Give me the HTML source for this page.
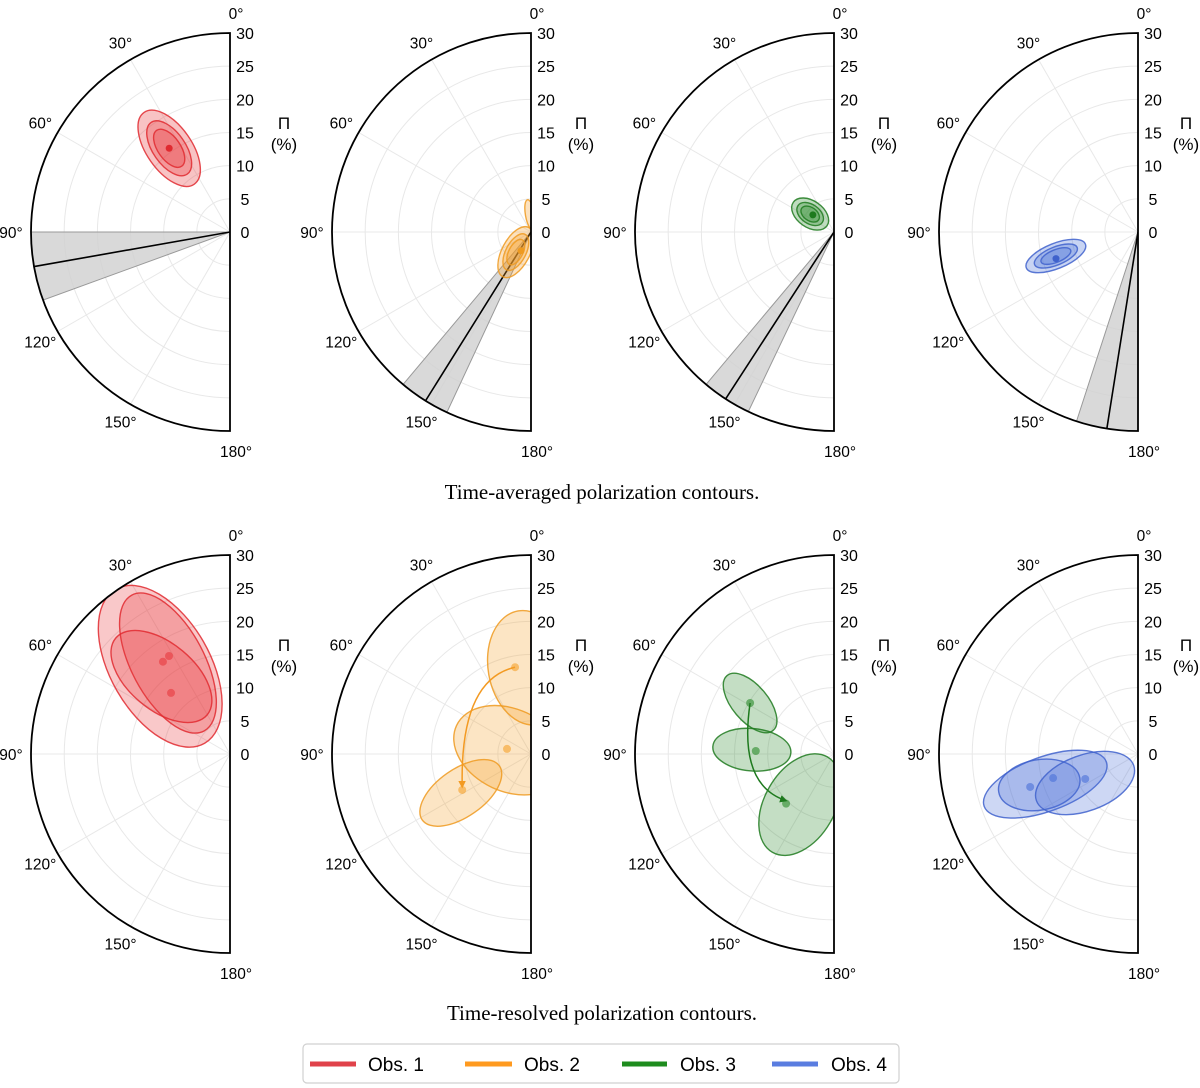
<!DOCTYPE html>
<html><head><meta charset="utf-8"><style>
body{margin:0;background:#fff;}
svg{display:block;font-family:"Liberation Sans",sans-serif;}
</style></head><body>
<svg id="fig" width="1200" height="1088" viewBox="0 0 1200 1088" xmlns="http://www.w3.org/2000/svg">
<defs>
<marker id="ah-orange" viewBox="0 0 10 10" refX="8" refY="5" markerWidth="5" markerHeight="5" orient="auto"><path d="M0,0 L10,5 L0,10 z" fill="#f39a22"/></marker>
<marker id="ah-green" viewBox="0 0 10 10" refX="8" refY="5" markerWidth="5" markerHeight="5" orient="auto"><path d="M0,0 L10,5 L0,10 z" fill="#1e7a1e"/></marker>
</defs>
<text x="602" y="499" text-anchor="middle" font-family="Liberation Serif, serif" font-size="21">Time-averaged polarization contours.</text>
<text x="602" y="1020" text-anchor="middle" font-family="Liberation Serif, serif" font-size="21">Time-resolved polarization contours.</text>
<g>
<rect x="303" y="1044" width="596" height="39" rx="4" fill="#fff" stroke="#d0d0d0" stroke-width="1.2"/>
<line x1="310" y1="1064" x2="356" y2="1064" stroke="#e0424a" stroke-width="5"/>
<text x="368" y="1071" font-size="19">Obs. 1</text>
<line x1="465" y1="1064" x2="512" y2="1064" stroke="#ff9a1f" stroke-width="5"/>
<text x="524" y="1071" font-size="19">Obs. 2</text>
<line x1="622" y1="1064" x2="667" y2="1064" stroke="#1e8c1e" stroke-width="5"/>
<text x="680" y="1071" font-size="19">Obs. 3</text>
<line x1="772" y1="1064" x2="818" y2="1064" stroke="#5a7de0" stroke-width="5"/>
<text x="831" y="1071" font-size="19">Obs. 4</text>
</g>
</svg>
<script>
// ---- data ----
const colors = ["#e8383d","#f5a02a","#2a8a2a","#4a6fd8"];
const strokeColors = ["#e02a30","#ee9a20","#1e7a1e","#3f62cc"];
const radialTicks = [0,5,10,15,20,25,30];
const angleTicks = [0,30,60,90,120,150,180];
// top row: EVPA wedges [mean, lo, hi] in degrees
const wedgeMean = [100,148,147,171];
const wedgeLo = [90,140,140,162];
const wedgeHi = [110,155,154.5,180];
// top contours: ellipse centre (angle, Pi %), semi-axes (%), rotation
const topAng = [36,143,53,106.3];
const topPi = [15.6,3.8,4.5,12.9];
const topA = [6.6,4.2,3.1,4.8];
const topB = [3.4,2.1,2.0,1.9];
const topRot = [55,-62,35,-22];
const topDotAng = [36,152,51,108];
const topDotPi = [15.6,3.2,4.1,13.0];
const contourLevels = [1,0.72,0.5];
// extra lobe of obs 2 contour along the axis
const lobeAng = [3];
const lobePi = [2.6];
const lobeA = [2.3];
const lobeB = [0.7];
const lobeRot = [80];
// bottom row: per observation, 3 epochs
const botAng = [[38.5,34.3,41.5],[2,80,119],[58.7,87,146],[108,107.4,118.7]];
const botPi = [[16.9,16.6,15.6],[13,3.3,12.1],[14.8,12.4,9.2],[14.7,15.6,9.1]];
const botA = [[13.4,11.6,9.0],[8.7,8.8,7.1],[5.4,5.9,8.3],[9.8,6.2,7.8]];
const botB = [[7.5,5.5,5.0],[6.0,6.2,3.6],[2.7,3.2,5.3],[4.1,3.8,4.2]];
const botRot = [[60,62,40],[80,25,-35],[50,5,-60],[-20,-10,-20]];
const botDotAng = [[36,31.9,44],[10.4,78,117.6],[58.7,87.8,136],[107,105.8,115.3]];
const botDotPi = [[17.2,17.4,12.8],[13.3,3.7,11.7],[14.8,11.8,10.4],[17.0,13.3,8.8]];
// arrows (obs 2 and 3): from first to last epoch via a bend point
const arrowObs = [1,2];
const arrowViaAng = [43.8,107.9];
const arrowViaPi = [15.5,15.2];

// ---- layout ----
const svg = document.getElementById('fig');
const NS = "http://www.w3.org/2000/svg";
const R = 199, RMAX = 30, scale = R / RMAX;
const panelX = [230,531,834,1138];
const piLabelOffset = [54,50,50,48];
const rowY = [232,754];
function mk(tag, attrs, parent){ const e=document.createElementNS(NS,tag); for(const k in attrs) e.setAttribute(k,attrs[k]); (parent||svg).appendChild(e); return e; }
function pos(cx,cy,ang,pi){ const t=ang*Math.PI/180, r=pi*scale; return [cx-r*Math.sin(t), cy-r*Math.cos(t)]; }

let clipId = 0;
function panel(cx, cy, name, pio){
  const g = mk('g',{});
  
  
  const id='clip'+(clipId++);
  const cp = mk('clipPath',{id:id}, g);
  mk('path',{d:`M${cx},${cy-R} A${R},${R} 0 0 0 ${cx},${cy+R} Z`}, cp);
  radialTicks.slice(1,-1).forEach(v=>{
    const r=v*scale;
    const c = mk('path',{d:`M${cx},${cy-r} A${r},${r} 0 0 0 ${cx},${cy+r}`, fill:'none', stroke:'#e8e8e8', 'stroke-width':1}, g);
    
    
  });
  angleTicks.slice(1,-1).forEach(a=>{
    const p=pos(cx,cy,a,RMAX);
    const l = mk('line',{x1:cx,y1:cy,x2:p[0],y2:p[1],stroke:'#e8e8e8','stroke-width':1}, g);
    
    
  });
  angleTicks.forEach(a=>{
    const t=a*Math.PI/180, rr=R+20;
    let x=cx-rr*Math.sin(t), y=cy-rr*Math.cos(t)+6;
    if(a===0||a===180) x+=6;
    const tx = mk('text',{x:x,y:y,'text-anchor':'middle','font-size':15.5}, g);
    tx.textContent=a+'°';
    
    
  });
  radialTicks.forEach(v=>{
    const tx = mk('text',{x:cx+15,y:cy-v*scale+6,'text-anchor':'middle','font-size':16}, g);
    tx.textContent=v;
    
    
  });
  const t1 = mk('text',{x:cx+pio,y:cy-103,'text-anchor':'middle','font-size':17}, g);
  t1.textContent='Π';
  
  
  const t2 = mk('text',{x:cx+pio,y:cy-82,'text-anchor':'middle','font-size':17}, g);
  t2.textContent='(%)';
  
  
  const data = mk('g',{'clip-path':`url(#${id})`}, g);
  return {g:g, data:data};
}
function frame(p, cx, cy){
  const f = mk('path',{d:`M${cx},${cy-R} A${R},${R} 0 0 0 ${cx},${cy+R} Z`, fill:'none', stroke:'#000','stroke-width':1.8}, p.g);
  
  
}
function ellipse(parent, cx, cy, ang, pi, a, b, rot, i, fo){
  const p=pos(cx,cy,ang,pi);
  return mk('ellipse',{cx:p[0],cy:p[1],rx:a*scale,ry:b*scale,transform:`rotate(${rot} ${p[0]} ${p[1]})`,
    fill:colors[i],'fill-opacity':fo,stroke:strokeColors[i],'stroke-width':1.4,'stroke-opacity':0.85}, parent);
}

for(let i=0;i<4;i++){
  const cx=panelX[i], cy=rowY[0];
  const p = panel(cx,cy,'top-panel-obs'+(i+1),piLabelOffset[i]);
  const w0=pos(cx,cy,wedgeLo[i],RMAX), w1=pos(cx,cy,wedgeHi[i],RMAX), wm=pos(cx,cy,wedgeMean[i],RMAX);
  const wd = mk('path',{d:`M${cx},${cy} L${w0[0]},${w0[1]} A${R},${R} 0 0 0 ${w1[0]},${w1[1]} Z`, fill:'#cfcfcf','fill-opacity':0.8, stroke:'#999','stroke-width':1}, p.data);
  
  
  const ml = mk('line',{x1:cx,y1:cy,x2:wm[0],y2:wm[1],stroke:'#000','stroke-width':1.6}, p.data);
  
  
  contourLevels.forEach(s=>{
    const e = ellipse(p.data,cx,cy,topAng[i],topPi[i],topA[i]*s,topB[i]*s,topRot[i],i,0.3);
    
    
  });
  if(i===1){
    const e = ellipse(p.data,cx,cy,lobeAng[0],lobePi[0],lobeA[0],lobeB[0],lobeRot[0],i,0.3);
    
    
  }
  const d=pos(cx,cy,topDotAng[i],topDotPi[i]);
  const dot = mk('circle',{cx:d[0],cy:d[1],r:3.5,fill:strokeColors[i]}, p.data);
  
  
  frame(p,cx,cy);
}
for(let i=0;i<4;i++){
  const cx=panelX[i], cy=rowY[1];
  const p = panel(cx,cy,'bottom-panel-obs'+(i+1),piLabelOffset[i]);
  for(let k=0;k<3;k++){
    const e = ellipse(p.data,cx,cy,botAng[i][k],botPi[i][k],botA[i][k],botB[i][k],botRot[i][k],i,0.28);
    
    
  }
  for(let k=0;k<3;k++){
    const d=pos(cx,cy,botDotAng[i][k],botDotPi[i][k]);
    const dot = mk('circle',{cx:d[0],cy:d[1],r:4,fill:colors[i],'fill-opacity':0.6}, p.data);
    
    
  }
  const ai = arrowObs.indexOf(i);
  if(ai>=0){
    const s=pos(cx,cy,botDotAng[i][0],botDotPi[i][0]);
    const e=pos(cx,cy,botDotAng[i][2],botDotPi[i][2]);
    const v=pos(cx,cy,arrowViaAng[ai],arrowViaPi[ai]);
    const col = i===1?'#f39a22':'#1e7a1e';
    const ar = mk('path',{d:`M${s[0]},${s[1]} Q${v[0]},${v[1]} ${e[0]},${e[1]-3}`, fill:'none', stroke:col,'stroke-width':1.5,'marker-end':`url(#ah-${i===1?'orange':'green'})`}, p.data);
    
    
  }
  frame(p,cx,cy);
}
</script>
</body></html>
